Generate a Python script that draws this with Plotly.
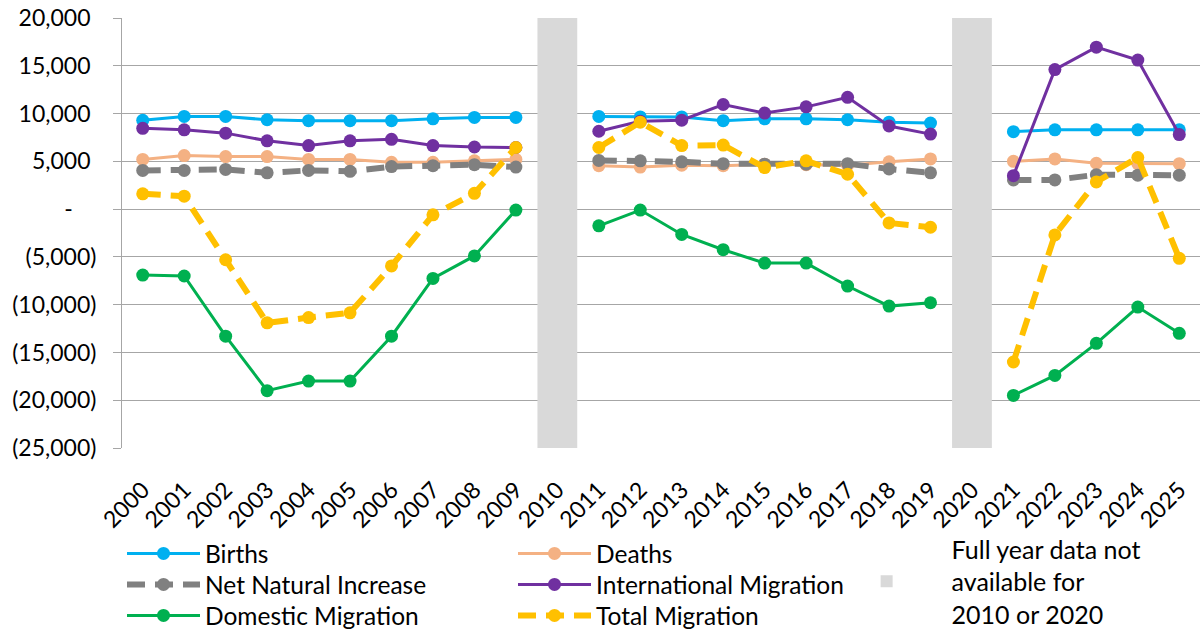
import plotly.graph_objects as go

years = ["2000", "2001", "2002", "2003", "2004", "2005", "2006", "2007", "2008", "2009",
         "2010", "2011", "2012", "2013", "2014", "2015", "2016", "2017", "2018", "2019",
         "2020", "2021", "2022", "2023", "2024", "2025"]

births = [9300, 9700, 9700, 9350, 9250, 9250, 9250, 9450, 9600, 9600, None,
          9700, 9650, 9650, 9250, 9450, 9450, 9350, 9100, 9000, None,
          8100, 8300, 8300, 8300, 8300]
deaths = [5200, 5600, 5500, 5500, 5200, 5200, 4900, 4900, 5050, 5200, None,
          4550, 4400, 4600, 4550, 4700, 4650, 4600, 4950, 5250, None,
          5000, 5250, 4800, 4750, 4750]
net_natural = [4050, 4050, 4150, 3800, 4050, 3950, 4450, 4550, 4650, 4400, None,
               5100, 5050, 4950, 4750, 4700, 4700, 4750, 4200, 3800, None,
               3050, 3050, 3600, 3550, 3550]
international = [8450, 8300, 7950, 7150, 6650, 7150, 7300, 6650, 6500, 6450, None,
                 8150, 9200, 9300, 10950, 10050, 10700, 11700, 8700, 7850, None,
                 3500, 14600, 16950, 15600, 7800]
domestic = [-6900, -7000, -13300, -19000, -18000, -18000, -13300, -7250, -4900, -100, None,
            -1750, -100, -2650, -4250, -5650, -5650, -8050, -10150, -9800, None,
            -19500, -17400, -14050, -10250, -13000]
total = [1600, 1350, -5300, -11900, -11350, -10850, -5950, -600, 1650, 6450, None,
         6450, 9100, 6650, 6700, 4350, 5050, 3650, -1450, -1900, None,
         -16000, -2700, 2850, 5400, -5150]

missing_years = ["2010", "2020"]
y_min, y_max = -25000, 20000

y_tickvals = [20000, 15000, 10000, 5000, 0, -5000, -10000, -15000, -20000, -25000]
y_ticktext = ["20,000\u00a0", "15,000\u00a0", "10,000\u00a0", "5,000\u00a0",
              "-\u00a0\u00a0\u00a0\u00a0", "(5,000)", "(10,000)", "(15,000)",
              "(20,000)", "(25,000)"]

FONT = "Lato"
GRID = "#A6A6A6"
LEG_FONT = dict(family=FONT, size=24.5, color="black")

fig = go.Figure()

fig.add_trace(go.Bar(
    x=missing_years, y=[y_max - y_min] * len(missing_years), base=y_min,
    width=0.96, marker=dict(color="#D9D9D9", line=dict(width=0)),
    name="Full year data not<br>available for<br>2010 or 2020",
    legend="legend2", hoverinfo="skip"))

series = [
    ("Births", births, "#00B0F0", 3, "solid", "legend"),
    ("Deaths", deaths, "#F4B183", 3, "solid", "legend"),
    ("Net Natural Increase", net_natural, "#808080", 6, "18px,10px", "legend3"),
    ("International Migration", international, "#7030A0", 3, "solid", "legend3"),
    ("Domestic Migration", domestic, "#00B050", 3, "solid", "legend4"),
    ("Total Migration", total, "#FFC000", 6, "18px,10px", "legend4"),
]
for name, vals, color, w, dash, leg in series:
    fig.add_trace(go.Scatter(
        x=years, y=vals, name=name, mode="lines+markers",
        line=dict(color=color, width=w, dash=dash),
        marker=dict(color=color, size=13),
        connectgaps=False, legend=leg))


def row_legend(ytop):
    return dict(orientation="h", x=0, xanchor="left", y=ytop, yanchor="top",
                entrywidth=303, entrywidthmode="pixels", itemwidth=73,
                font=LEG_FONT, bgcolor="rgba(0,0,0,0)", traceorder="normal")


fig.update_layout(
    width=1200, height=660,
    margin=dict(l=122, r=0, t=18, b=212),
    paper_bgcolor="white", plot_bgcolor="white",
    font=dict(family=FONT, size=23, color="black"),
    barmode="overlay",
    xaxis=dict(type="category", categoryorder="array", categoryarray=years,
               range=[-0.5, 25.5], tickangle=-45, ticks="", showgrid=False,
               showline=False, zeroline=False, ticklabelstandoff=23,
               tickfont=dict(family=FONT, size=23, color="black")),
    xaxis2=dict(overlaying="x", anchor="free", position=(0 - y_min) / (y_max - y_min),
                range=[-0.5, 25.5], tickmode="linear", tick0=-0.5, dtick=1,
                ticks="outside", ticklen=6, tickcolor=GRID, tickwidth=1,
                showline=True, linecolor=GRID, linewidth=1,
                showticklabels=False, showgrid=False, zeroline=False),
    yaxis=dict(range=[y_min, y_max], tickmode="array", tickvals=y_tickvals,
               ticktext=y_ticktext, showgrid=True, gridcolor=GRID, gridwidth=1,
               zeroline=False, showline=True, linecolor=GRID, linewidth=1,
               ticks="outside", ticklen=8, tickcolor=GRID, ticklabelstandoff=12,
               tickfont=dict(family=FONT, size=23, color="black")),
    legend=row_legend(-0.1930),
    legend3=row_legend(-0.2651),
    legend4=row_legend(-0.3372),
    legend2=dict(orientation="v", x=0.649, xanchor="left", y=-0.1814, yanchor="top",
                 itemwidth=120, font=dict(family=FONT, size=25, color="black"),
                 bgcolor="rgba(0,0,0,0)"),
)

fig.write_html("out.html", config={"displayModeBar": False},
               post_script="document.body.style.margin='0';document.body.style.overflow='hidden';")
